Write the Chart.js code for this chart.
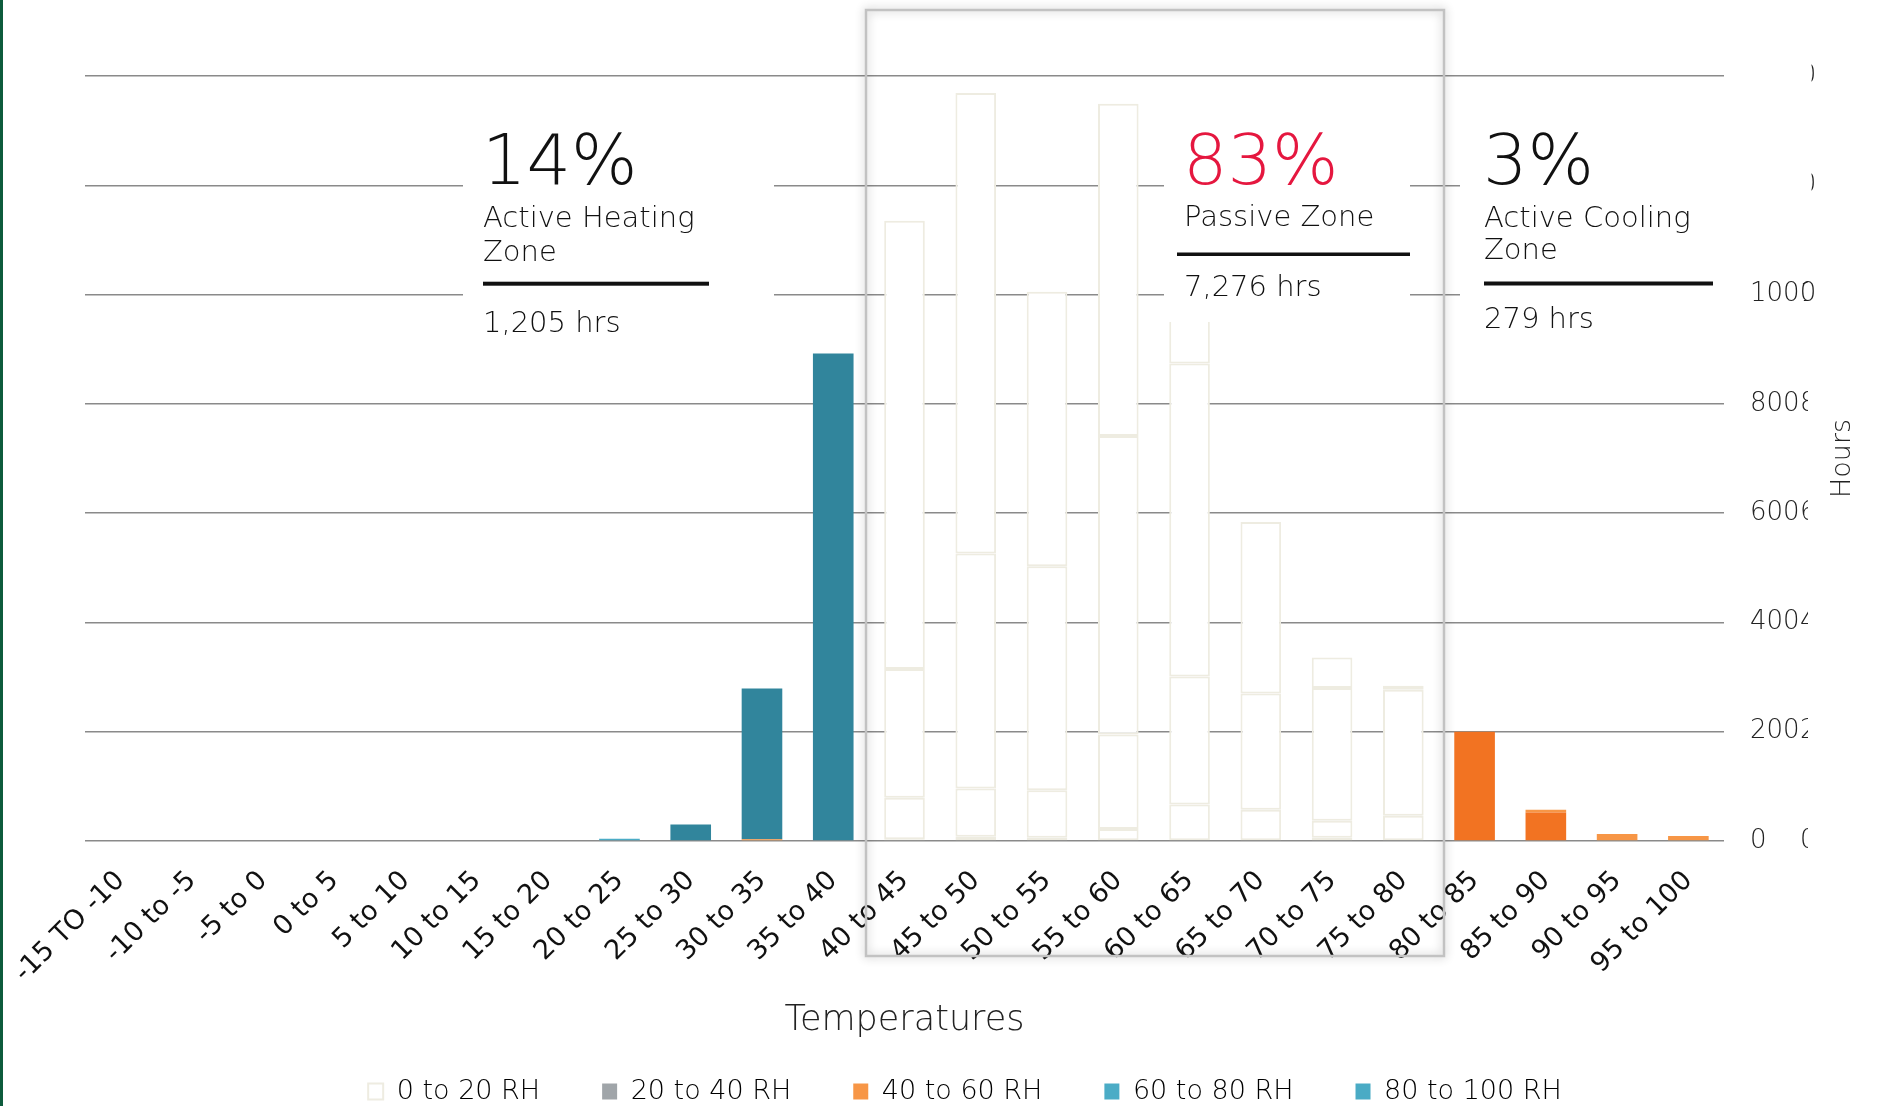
<!DOCTYPE html>
<html>
<head>
<meta charset="utf-8">
<script src="https://cdn.jsdelivr.net/npm/chart.js@4.4.1/dist/chart.umd.min.js"></script>
<style>
  html, body { margin: 0; padding: 0; background: #ffffff; }
  #wrap { position: relative; width: 1877px; height: 1106px; overflow: hidden; }
  canvas { display: block; }
</style>
</head>
<body>
<div id="wrap"><canvas id="chart" width="1877" height="1106"></canvas></div>
<script>
// Temperature bins (°F)
const categories = [
  '-15 TO -10', '-10 to -5', '-5 to 0', '0 to 5', '5 to 10', '10 to 15', '15 to 20',
  '20 to 25', '25 to 30', '30 to 35', '35 to 40', '40 to 45', '45 to 50', '50 to 55',
  '55 to 60', '60 to 65', '65 to 70', '70 to 75', '75 to 80', '80 to 85', '85 to 90',
  '90 to 95', '95 to 100'
];

// Hours per temperature bin, split by relative-humidity band
const rh0to20   = [0,0,0,0,0,0,0, 0,0,0,0, 0,0,0,0,0,0,6,0, 0,0,0,0];
const rh20to40  = [0,0,0,0,0,0,0, 0,0,0,0, 3,8,6,22,67,57,31,46, 200,52,0,0];
const rh40to60  = [0,0,0,0,0,0,0, 0,0,3,0, 76,88,87,173,234,213,243,231, 0,5,13,9];
const rh60to80  = [0,0,0,0,0,0,0, 4,0,0,0, 236,430,410,546,573,314,56,7, 0,0,0,0];
const rh80to100 = [0,0,0,0,0,0,0, 0,30,276,892, 820,843,502,608,340,0,0,0, 0,0,0,0];

const seriesNames = ['0 to 20 RH', '20 to 40 RH', '40 to 60 RH', '60 to 80 RH', '80 to 100 RH'];
const seriesValues = [rh0to20, rh20to40, rh40to60, rh60to80, rh80to100];

// Y axis ticks (hours)
const yTicks = [0, 200, 400, 600, 800, 1000, 1200, 1400];

// Zones: last bin index of heating, first bin index of cooling
const heatingLast = 10;
const coolingFirst = 19;

// Zone summaries
const zoneSummaries = [
  { pct: '14%', title: ['Active Heating', 'Zone'], hours: '1,205 hrs' },
  { pct: '83%', title: ['Passive Zone'],           hours: '7,276 hrs' },
  { pct: '3%',  title: ['Active Cooling', 'Zone'], hours: '279 hrs' }
];

const legendColours = ['#ffffff', '#a0a5a9', '#f79646', '#4bacc6', '#4aabc5'];
const heatingColours = ['#4bacc6', '#a0a5a9', '#f79646', '#4bacc6', '#31859c'];
const coolingColours = ['#f79646', '#f27322', '#f79646', '#f79646', '#f79646'];
const passiveFill = '#ffffff';
const passiveEdge = '#eeece1';

const LIGHT = '"DejaVu Sans", sans-serif';
const TICK = '"DejaVu Sans", sans-serif';

function zoneOf(i) {
  if (i <= heatingLast) return 'heat';
  if (i >= coolingFirst) return 'cool';
  return 'passive';
}

const datasets = seriesValues.map((vals, d) => ({
  label: seriesNames[d],
  data: vals,
  backgroundColor: (c) => {
    const z = zoneOf(c.dataIndex);
    return z === 'heat' ? heatingColours[d] : z === 'cool' ? coolingColours[d] : passiveFill;
  },
  borderColor: passiveEdge,
  borderWidth: (c) => zoneOf(c.dataIndex) === 'passive' ? 2 : 0,
  borderSkipped: false,
  categoryPercentage: 0.57,
  barPercentage: 1.0
}));

// nudges the legend row sideways after layout
const legendShift = {
  id: 'legendShift',
  afterLayout(chart) {
    if (chart.legend) {
      chart.legend.left -= 16;
      chart.legend.right -= 16;
    }
  }
};

// Frame, zone captions, right-hand axis extras
const decorations = {
  id: 'decorations',
  afterDraw(chart) {
    const ctx = chart.ctx;
    const y = chart.scales.y;
    const area = chart.chartArea;

    // second, clipped set of tick labels on the right
    ctx.save();
    ctx.beginPath();
    ctx.rect(1795, 0, 13, chart.height);
    ctx.clip();
    ctx.fillStyle = '#222222';
    ctx.font = '200 26px ' + LIGHT;
    ctx.textAlign = 'left';
    ctx.textBaseline = 'middle';
    yTicks.forEach(v => ctx.fillText(String(v), 1800, y.getPixelForValue(v)));
    ctx.restore();

    // white panels behind the zone captions
    ctx.save();
    ctx.fillStyle = '#ffffff';
    ctx.fillRect(463, 100, 311, 240);
    ctx.fillRect(1164, 100, 246, 222);
    ctx.fillRect(1460, 100, 285, 240);
    ctx.fillRect(1745, 55, 66.5, 150);
    ctx.restore();

    // passive-zone frame
    ctx.save();
    ctx.shadowColor = 'rgba(0,0,0,0.30)';
    ctx.shadowBlur = 10;
    ctx.strokeStyle = '#c2c2c2';
    ctx.lineWidth = 2.5;
    ctx.strokeRect(866, 10, 578, 946);
    ctx.restore();

    // zone captions
    const spots = [
      { x: 483,  pctY: 184, colour: '#111111', lineY: [226.7, 260.7], rule: [483, 281.7, 226, 4],    hrsY: 331.7 },
      { x: 1184, pctY: 184, colour: '#e5173f', lineY: [225.7],        rule: [1177, 252.5, 233, 3.5], hrsY: 295.7 },
      { x: 1484, pctY: 184, colour: '#111111', lineY: [226.7, 258.7], rule: [1484, 281.5, 229, 4],   hrsY: 328 }
    ];
    ctx.save();
    ctx.textAlign = 'left';
    ctx.textBaseline = 'alphabetic';
    zoneSummaries.forEach((z, k) => {
      const s = spots[k];
      ctx.fillStyle = s.colour;
      ctx.font = '200 70px ' + LIGHT;
      ctx.fillText(z.pct, s.x - 1, s.pctY);
      ctx.fillStyle = '#111111';
      ctx.font = '200 29px ' + LIGHT;
      z.title.forEach((t, j) => ctx.fillText(t, s.x, s.lineY[j]));
      ctx.fillRect(s.rule[0], s.rule[1], s.rule[2], s.rule[3]);
      ctx.fillText(z.hours, s.x, s.hrsY);
    });
    ctx.restore();

    // axis title, reading upwards
    ctx.save();
    ctx.translate(area.right + 119, (area.top + area.bottom) / 2);
    ctx.rotate(-Math.PI / 2);
    ctx.fillStyle = '#222222';
    ctx.font = '200 27px ' + LIGHT;
    ctx.textAlign = 'center';
    ctx.textBaseline = 'middle';
    ctx.fillText('Hours', 0, 0);
    ctx.restore();

    // page edge
    ctx.save();
    ctx.fillStyle = '#0d5b3c';
    ctx.fillRect(0, 0, 3, chart.height);
    ctx.restore();
  }
};

new Chart(document.getElementById('chart'), {
  type: 'bar',
  data: { labels: categories, datasets },
  plugins: [legendShift, decorations],
  options: {
    responsive: false,
    animation: false,
    events: [],
    layout: { padding: { left: 85, right: 0, top: 76, bottom: -9 } },
    scales: {
      x: {
        stacked: true,
        grid: { display: false, drawTicks: false },
        border: { display: false },
        ticks: {
          autoSkip: false,
          minRotation: 45,
          maxRotation: 45,
          padding: 24,
          color: '#111111',
          font: { family: TICK, size: 27 }
        },
        title: {
          display: true,
          text: 'Temperatures',
          color: '#222222',
          font: { family: LIGHT, size: 35, weight: 200 },
          padding: { top: 0, bottom: -26 }
        },
        afterFit: (s) => { s.height = 175; s.paddingLeft = 0; s.paddingRight = 0; }
      },
      y: {
        stacked: true,
        position: 'right',
        min: 0,
        max: 1400,
        grid: { color: '#8a8a8a', lineWidth: 1.5, drawTicks: false },
        border: { display: false },
        afterBuildTicks: (s) => { s.ticks = yTicks.map(v => ({ value: v })); },
        ticks: {
          padding: 26,
          color: '#222222',
          font: { family: LIGHT, size: 26, weight: 200 },
          callback: (v) => String(v)
        },
        afterFit: (s) => { s.width = 153; }
      }
    },
    plugins: {
      tooltip: { enabled: false },
      legend: {
        position: 'bottom',
        labels: {
          boxWidth: 15,
          boxHeight: 16,
          padding: 62,
          color: '#222222',
          font: { family: LIGHT, size: 27, weight: 200 },
          generateLabels: () => seriesNames.map((n, i) => ({
            text: n,
            fillStyle: legendColours[i],
            strokeStyle: i === 0 ? passiveEdge : legendColours[i],
            lineWidth: i === 0 ? 2 : 0,
            hidden: false,
            datasetIndex: i
          }))
        }
      }
    }
  }
});
</script>
</body>
</html>
